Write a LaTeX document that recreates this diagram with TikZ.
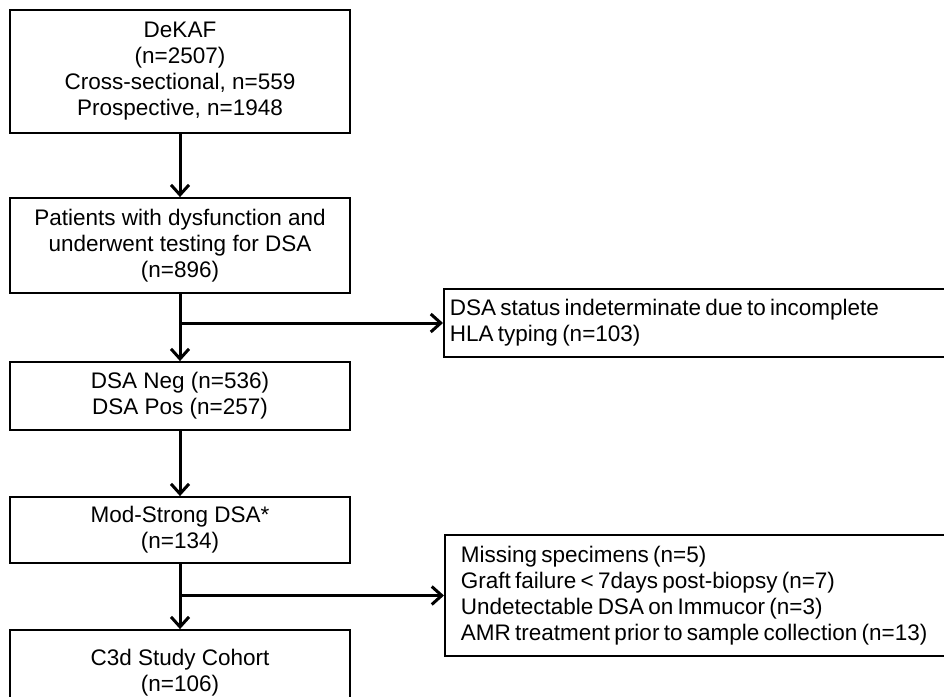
\documentclass[tikz,border=0pt]{standalone}
\usepackage{fontspec}
\setmainfont{Liberation Sans}
\usetikzlibrary{arrows.meta}
\newcommand\mytightsp{\spaceskip=0.19em plus 0.05em\relax}
\begin{document}
\begin{tikzpicture}[x=1pt,y=-1pt,
  txt/.style={font=\fontsize{22.5}{26}\selectfont},
  box/.style={txt, draw, line width=1.8pt, inner sep=0pt, align=center, minimum width=340pt},
  rbox/.style={txt, execute at begin node=\mytightsp, draw, line width=1.8pt, inner ysep=0pt, align=left, anchor=west, minimum width=520pt},
  arr/.style={line width=3pt, -{Straight Barb[length=10pt,width=18pt]}}]
\useasboundingbox (0,0) rectangle (944,696);
\fill[white] (0,0) rectangle (944,696);
\clip (0,0) rectangle (944,696);
\node[box, minimum height=123pt] (b1) at (180,71.5) {DeKAF\\(n=2507)\\Cross-sectional, n=559\\Prospective, n=1948};
\node[box, minimum height=95pt] (b2) at (180,245.5) {Patients with dysfunction and\\underwent testing for DSA\\(n=896)};
\node[box, minimum height=68pt] (b3) at (180,396) {DSA Neg (n=536)\\DSA Pos (n=257)};
\node[box, minimum height=66pt] (b4) at (180,530) {Mod-Strong DSA*\\(n=134)};
\node[box, minimum height=86pt] (b5) at (180,673) {C3d Study Cohort\\(n=106)};
\node[rbox, minimum height=68pt, inner xsep=6pt, text width=508pt] (r1) at (443,323) {DSA status indeterminate due to incomplete\\HLA typing (n=103)};
\node[rbox, minimum height=121pt, inner xsep=16pt, text width=488pt] (r2) at (444,595.5) {Missing specimens (n=5)\\Graft failure {<} 7days post-biopsy (n=7)\\Undetectable DSA on Immucor (n=3)\\AMR treatment prior to sample collection (n=13)};
\draw[arr] (b1) -- (b2);
\draw[arr] (b2) -- (b3);
\draw[arr] (b2.south |- r1.west) -- (r1.west);
\draw[arr] (b3) -- (b4);
\draw[arr] (b4) -- (b5);
\draw[arr] (b4.south |- r2.west) -- (r2.west);
\end{tikzpicture}
\end{document}
